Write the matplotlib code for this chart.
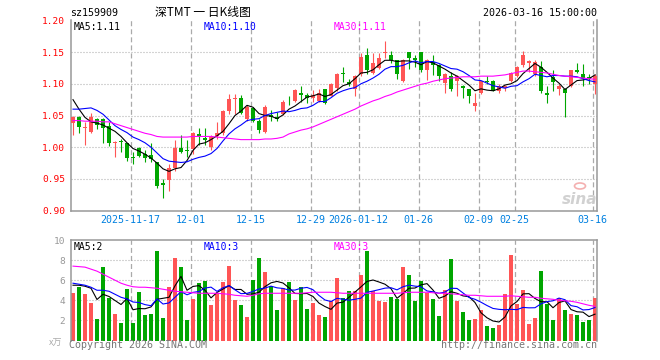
import matplotlib
matplotlib.use("Agg")
import matplotlib.pyplot as plt
import numpy as np

plt.rcParams["lines.scale_dashes"] = False

# daily K-line data, 2025-11-03 .. 2026-03-16 (88 trading days)
opens = [1.038, 1.047, 1.030, 1.024, 1.045, 1.045, 1.033, 1.006, 1.010, 1.006,
         0.984, 0.999, 0.990, 0.987, 0.976, 0.944, 0.948, 0.968, 0.999, 0.996,
         0.997, 1.021, 1.014, 1.001, 1.017, 1.022, 1.057, 1.076, 1.078, 1.044,
         1.062, 1.042, 1.024, 1.050, 1.048, 1.052, 1.075, 1.073, 1.086, 1.082,
         1.077, 1.073, 1.091, 1.081, 1.094, 1.117, 1.103, 1.091, 1.115, 1.146,
         1.117, 1.125, 1.149, 1.146, 1.137, 1.104, 1.150, 1.141, 1.150, 1.122,
         1.134, 1.130, 1.101, 1.113, 1.104, 1.097, 1.091, 1.065, 1.086, 1.104,
         1.104, 1.089, 1.093, 1.104, 1.112, 1.129, 1.133, 1.115, 1.126, 1.086,
         1.111, 1.091, 1.092, 1.097, 1.121, 1.116, 1.111, 1.099]
closes = [1.047, 1.032, 1.031, 1.047, 1.035, 1.030, 1.006, 1.008, 1.008, 0.983,
          0.983, 0.986, 0.983, 0.982, 0.939, 0.940, 0.968, 0.999, 0.992, 0.994,
          1.022, 1.017, 1.011, 1.017, 1.022, 1.057, 1.076, 1.078, 1.054, 1.063,
          1.042, 1.027, 1.064, 1.047, 1.044, 1.071, 1.074, 1.090, 1.083, 1.077,
          1.082, 1.086, 1.070, 1.099, 1.115, 1.115, 1.100, 1.113, 1.142, 1.122,
          1.132, 1.141, 1.150, 1.138, 1.115, 1.137, 1.141, 1.137, 1.121, 1.138,
          1.130, 1.112, 1.115, 1.091, 1.112, 1.093, 1.081, 1.069, 1.104, 1.102,
          1.089, 1.097, 1.096, 1.117, 1.126, 1.146, 1.136, 1.135, 1.089, 1.083,
          1.102, 1.097, 1.086, 1.121, 1.119, 1.109, 1.107, 1.113]
highs = [1.049, 1.050, 1.039, 1.054, 1.046, 1.046, 1.039, 1.010, 1.013, 1.007,
         0.992, 1.001, 0.995, 1.007, 0.977, 0.950, 0.974, 1.012, 1.020, 1.012,
         1.024, 1.030, 1.031, 1.019, 1.039, 1.059, 1.084, 1.084, 1.083, 1.066,
         1.064, 1.044, 1.066, 1.058, 1.056, 1.074, 1.080, 1.091, 1.096, 1.086,
         1.090, 1.092, 1.092, 1.101, 1.117, 1.126, 1.108, 1.114, 1.149, 1.156,
         1.149, 1.149, 1.167, 1.152, 1.137, 1.139, 1.150, 1.146, 1.150, 1.139,
         1.145, 1.131, 1.117, 1.119, 1.114, 1.098, 1.092, 1.085, 1.105, 1.112,
         1.106, 1.099, 1.098, 1.119, 1.128, 1.152, 1.137, 1.137, 1.136, 1.097,
         1.121, 1.099, 1.093, 1.122, 1.133, 1.131, 1.116, 1.115]
lows = [1.019, 1.022, 1.003, 1.022, 1.028, 1.006, 1.002, 0.984, 0.992, 0.978,
        0.974, 0.984, 0.976, 0.976, 0.936, 0.920, 0.931, 0.963, 0.991, 0.984,
        0.990, 1.004, 1.004, 0.995, 1.013, 1.020, 1.052, 1.052, 1.052, 1.042,
        1.040, 1.022, 1.022, 1.042, 1.042, 1.051, 1.066, 1.072, 1.071, 1.070,
        1.072, 1.072, 1.068, 1.080, 1.088, 1.102, 1.096, 1.081, 1.112, 1.115,
        1.115, 1.123, 1.141, 1.133, 1.108, 1.102, 1.124, 1.127, 1.118, 1.106,
        1.114, 1.104, 1.085, 1.089, 1.080, 1.078, 1.070, 1.057, 1.084, 1.099,
        1.088, 1.086, 1.089, 1.102, 1.110, 1.127, 1.118, 1.113, 1.086, 1.070,
        1.089, 1.083, 1.047, 1.095, 1.117, 1.096, 1.099, 1.084]

ma5 = [1.075, 1.060, 1.047, 1.040, 1.038, 1.035, 1.030, 1.025, 1.017, 1.007,
       0.998, 0.994, 0.989, 0.983, 0.975, 0.966, 0.962, 0.966, 0.968, 0.979,
       0.995, 1.005, 1.007, 1.012, 1.018, 1.025, 1.037, 1.050, 1.057, 1.066,
       1.063, 1.053, 1.050, 1.049, 1.045, 1.051, 1.060, 1.065, 1.072, 1.079,
       1.081, 1.084, 1.080, 1.083, 1.090, 1.097, 1.100, 1.108, 1.117, 1.118,
       1.122, 1.130, 1.137, 1.137, 1.135, 1.136, 1.136, 1.134, 1.130, 1.135,
       1.133, 1.128, 1.123, 1.117, 1.112, 1.105, 1.098, 1.089, 1.092, 1.090,
       1.089, 1.092, 1.098, 1.100, 1.105, 1.116, 1.124, 1.132, 1.126, 1.118,
       1.109, 1.101, 1.091, 1.098, 1.105, 1.106, 1.108, 1.114]
ma10 = [1.060, 1.060, 1.061, 1.062, 1.058, 1.052, 1.043, 1.034, 1.028, 1.023,
        1.016, 1.012, 1.007, 1.000, 0.991, 0.982, 0.978, 0.977, 0.976, 0.977,
        0.981, 0.984, 0.986, 0.990, 0.998, 1.010, 1.021, 1.029, 1.035, 1.042,
        1.044, 1.045, 1.050, 1.053, 1.055, 1.057, 1.056, 1.058, 1.061, 1.062,
        1.066, 1.072, 1.072, 1.078, 1.085, 1.089, 1.092, 1.094, 1.100, 1.104,
        1.109, 1.115, 1.123, 1.127, 1.127, 1.129, 1.133, 1.136, 1.133, 1.135,
        1.135, 1.132, 1.128, 1.124, 1.123, 1.119, 1.113, 1.106, 1.105, 1.101,
        1.097, 1.095, 1.093, 1.096, 1.097, 1.103, 1.108, 1.115, 1.113, 1.111,
        1.113, 1.113, 1.112, 1.112, 1.111, 1.108, 1.105, 1.103]
ma30 = [1.042, 1.042, 1.041, 1.041, 1.041, 1.040, 1.040, 1.037, 1.034, 1.031,
        1.028, 1.025, 1.022, 1.020, 1.017, 1.016, 1.016, 1.016, 1.016, 1.016,
        1.017, 1.017, 1.017, 1.017, 1.016, 1.015, 1.014, 1.013, 1.012, 1.012,
        1.012, 1.012, 1.013, 1.013, 1.014, 1.016, 1.021, 1.024, 1.027, 1.029,
        1.032, 1.036, 1.040, 1.044, 1.048, 1.052, 1.056, 1.060, 1.065, 1.069,
        1.073, 1.076, 1.080, 1.083, 1.087, 1.090, 1.093, 1.096, 1.099, 1.101,
        1.104, 1.106, 1.108, 1.109, 1.110, 1.111, 1.111, 1.111, 1.112, 1.112,
        1.112, 1.113, 1.114, 1.116, 1.118, 1.120, 1.120, 1.119, 1.118, 1.117,
        1.115, 1.113, 1.112, 1.111, 1.110, 1.109, 1.108, 1.107]

# volume in units of 10k
volumes = [4.7, 5.3, 4.6, 3.7, 2.1, 7.3, 4.2, 2.6, 1.7, 5.1,
           1.7, 4.8, 2.5, 2.6, 8.9, 2.2, 5.3, 8.2, 7.3, 2.0,
           4.1, 5.7, 5.9, 3.5, 4.7, 5.8, 7.4, 4.0, 3.5, 2.3,
           6.0, 8.2, 6.8, 5.4, 3.0, 5.2, 5.8, 4.0, 5.3, 3.1,
           3.7, 2.5, 2.3, 3.9, 6.2, 4.2, 4.9, 4.9, 6.5, 8.9,
           4.9, 3.9, 3.8, 4.3, 4.1, 7.3, 6.5, 3.9, 5.9, 4.7,
           4.1, 2.4, 5.0, 8.1, 3.9, 2.8, 2.0, 2.1, 3.0, 1.4,
           1.2, 1.5, 4.6, 8.5, 3.6, 5.0, 1.6, 2.2, 6.9, 3.6,
           2.0, 4.2, 3.0, 2.6, 2.5, 1.8, 2.0, 4.2]
vol_ma5 = [5.5, 5.5, 5.4, 5.2, 4.08, 4.6, 4.38, 3.98, 3.58, 4.18,
           3.06, 3.18, 3.16, 3.34, 4.1, 4.2, 4.3, 5.44, 6.38, 5.0,
           5.38, 5.46, 5.0, 4.24, 4.78, 5.12, 5.46, 5.08, 5.08, 4.6,
           4.64, 4.8, 5.36, 5.74, 5.88, 5.72, 5.24, 4.68, 4.66, 4.68,
           4.38, 3.72, 3.38, 3.1, 3.72, 3.82, 4.3, 4.82, 5.34, 5.88,
           6.02, 5.82, 5.6, 5.16, 4.2, 4.68, 5.2, 5.22, 5.54, 5.66,
           5.02, 4.2, 4.42, 4.86, 4.7, 4.44, 4.36, 3.78, 2.76, 2.26,
           1.94, 1.84, 2.34, 3.44, 3.88, 4.64, 4.66, 4.18, 3.86, 3.86,
           3.26, 3.78, 3.94, 3.08, 2.86, 2.82, 2.38, 2.62]
vol_ma10 = [5.7, 5.6, 5.5, 5.3, 5.0, 5.0, 4.9, 4.6, 4.3, 4.13,
            3.83, 3.78, 3.57, 3.46, 4.14, 3.63, 3.74, 4.3, 4.86, 4.55,
            4.79, 4.88, 5.22, 5.31, 4.89, 5.25, 5.46, 5.04, 4.66, 4.69,
            4.88, 5.13, 5.22, 5.41, 5.24, 5.18, 5.02, 5.02, 5.2, 5.28,
            5.05, 4.48, 4.03, 3.88, 4.2, 4.1, 4.01, 4.1, 4.22, 4.8,
            4.92, 5.06, 5.21, 5.25, 5.04, 5.35, 5.51, 5.41, 5.35, 4.93,
            4.85, 4.7, 4.82, 5.2, 5.18, 4.73, 4.28, 4.1, 3.81, 3.48,
            3.19, 3.1, 3.06, 3.1, 3.07, 3.29, 3.25, 3.26, 3.65, 3.87,
            3.95, 4.22, 4.06, 3.47, 3.36, 3.04, 3.08, 3.28]
vol_ma30 = [7.4, 7.35, 7.3, 7.1, 6.9, 6.6, 6.3, 6.0, 5.7, 5.5,
            5.35, 5.3, 5.3, 5.25, 5.2, 5.1, 5.0, 4.9, 4.85, 4.8,
            4.75, 4.7, 4.7, 4.7, 4.7, 4.65, 4.6, 4.5, 4.45, 4.4,
            4.5, 4.65, 4.7, 4.7, 4.7, 4.7, 4.7, 4.7, 4.7, 4.75,
            4.8, 4.8, 4.8, 4.8, 4.75, 4.7, 4.7, 4.7, 4.7, 4.7,
            4.7, 4.7, 4.7, 4.7, 4.7, 4.75, 4.8, 4.8, 4.8, 4.8,
            4.75, 4.7, 4.7, 4.65, 4.6, 4.55, 4.5, 4.5, 4.45, 4.4,
            4.4, 4.4, 4.4, 4.45, 4.4, 4.35, 4.3, 4.3, 4.2, 4.15,
            4.1, 4.0, 3.95, 3.9, 3.8, 3.65, 3.5, 3.4]

date_index = [10, 20, 30, 40, 48, 58, 68, 74, 87]
date_labels = ["2025-11-17", "12-01", "12-15", "12-29", "2026-01-12",
               "01-26", "02-09", "02-25", "03-16"]
price_ticks = [0.90, 0.95, 1.00, 1.05, 1.10, 1.15, 1.20]
vol_ticks = [2, 4, 6, 8, 10]

RED = "#ff5555"
GREEN = "#00a600"
BORDER = "#999999"
GRID = "#aaaaaa"
MONO = "DejaVu Sans Mono"
CJK = ["Noto Sans CJK SC", "DejaVu Sans"]

W, H = 660, 360


def px(x, y):
    return x / W, 1 - y / H


fig = plt.figure(figsize=(6.6, 3.6), dpi=100)
ax = fig.add_axes([70.5 / W, 1 - 210.7 / H, 526.5 / W, 190.4 / H])
axv = fig.add_axes([70.5 / W, 1 - 340.5 / H, 526.5 / W, 100.5 / H])

x = np.arange(len(closes))
o = np.array(opens)
c = np.array(closes)
up = c >= o
cols = [RED if u else GREEN for u in up]
body_bottom = np.minimum(o, c)
body_height = np.maximum(np.abs(c - o), 0.0012)

slot = 0.417
grid_x = [i - slot for i in date_index]

for a in (ax, axv):
    a.set_xlim(-slot, 87.333)
    for gx in grid_x:
        a.axvline(gx, color=GRID, lw=0.9, ls=(0, (3.6, 2.2)), zorder=0)
    for s in a.spines.values():
        s.set_color(BORDER)
        s.set_linewidth(1.1)
    a.tick_params(length=0)

# price panel
ax.set_ylim(0.90, 1.20)
for yv in [0.95, 1.00, 1.05, 1.10, 1.15]:
    ax.axhline(yv, color=GRID, lw=0.8, ls=(0, (0.72, 1.44)), zorder=0)
ax.vlines(x, lows, highs, colors=cols, lw=0.8, zorder=2)
ax.bar(x, body_height, width=0.83, bottom=body_bottom, color=cols, lw=0, zorder=3)
ax.plot(x, ma5, color="black", lw=0.8, zorder=4)
ax.plot(x, ma10, color="#0000ff", lw=0.8, zorder=4)
ax.plot(x, ma30, color="#ff00ff", lw=0.8, zorder=4)
ax.spines["top"].set_visible(False)

ax.set_yticks(price_ticks)
ax.set_yticklabels([f"{t:.2f}" for t in price_ticks], color="#ff0000",
                   family=MONO, fontsize=6.8)
ax.tick_params(axis="y", pad=4)
ax.set_xticks(grid_x)
ax.set_xticklabels(date_labels, color="#0080e0", family=MONO, fontsize=7.2)
ax.tick_params(axis="x", pad=3)

# volume panel
axv.set_ylim(0, 10)
for yv in [2, 4, 6, 8]:
    axv.axhline(yv, color=GRID, lw=0.8, ls=(0, (0.72, 1.44)), zorder=0)
axv.bar(x, volumes, width=0.83, color=cols, lw=0, zorder=2)
axv.plot(x, vol_ma5, color="black", lw=0.8, zorder=4)
axv.plot(x, vol_ma10, color="#0000ff", lw=0.8, zorder=4)
axv.plot(x, vol_ma30, color="#ff00ff", lw=0.8, zorder=4)
axv.spines["bottom"].set_visible(False)
axv.set_yticks(vol_ticks)
axv.set_yticklabels([str(t) for t in vol_ticks], color="#999999",
                    family=MONO, fontsize=6.8)
axv.tick_params(axis="y", pad=4)
axv.set_xticks([])

# header texts
fig.text(*px(70, 13), "sz159909", ha="left", va="center", family=MONO, fontsize=7.2)
fig.text(*px(203, 12.5), "深TMT 一 日K线图", ha="center", va="center",
         family=CJK, fontsize=8.5)
fig.text(*px(597, 13), "2026-03-16 15:00:00", ha="right", va="center",
         family=MONO, fontsize=7.2)

# MA captions
fig.text(*px(74, 26.5), "MA5:1.11", ha="left", va="center", family=MONO, fontsize=7)
fig.text(*px(204, 26.5), "MA10:1.10", ha="left", va="center", family=MONO,
         fontsize=7, color="#0000ff")
fig.text(*px(334, 26.5), "MA30:1.11", ha="left", va="center", family=MONO,
         fontsize=7, color="#ff00ff")
fig.text(*px(74, 246.5), "MA5:2", ha="left", va="center", family=MONO, fontsize=7)
fig.text(*px(204, 246.5), "MA10:3", ha="left", va="center", family=MONO,
         fontsize=7, color="#0000ff")
fig.text(*px(334, 246.5), "MA30:3", ha="left", va="center", family=MONO,
         fontsize=7, color="#ff00ff")

# footer
fig.text(*px(49, 343), "x万", ha="left", va="center", family=CJK, fontsize=6.5,
         color="#aaaaaa", style="italic")
fig.text(*px(69, 345), "Copyright 2026 SINA.COM", ha="left", va="center",
         family=MONO, fontsize=7.2, color="#777777")
fig.text(*px(597, 345), "http://finance.sina.com.cn", ha="right", va="center",
         family=MONO, fontsize=7.2, color="#777777")

# watermark: eye logo + "sina"
fig.text(*px(597, 199), "sina", ha="right", va="center", fontsize=11,
         fontweight="bold", style="italic", color="#cccccc", alpha=0.9)
fig.patches.append(plt.Circle(px(580, 186), 5.5 / W, transform=fig.transFigure,
                              facecolor="none", edgecolor="#f4b0b0", lw=1.2))

fig.savefig("out.png", dpi=100)
plt.close(fig)
